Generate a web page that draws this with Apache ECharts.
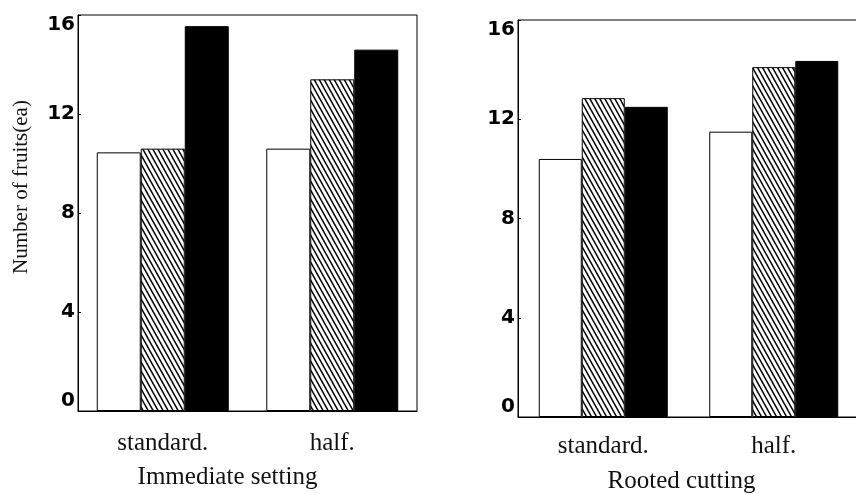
<!DOCTYPE html>
<html><head><meta charset="utf-8">
<script src="https://cdn.jsdelivr.net/npm/echarts@6/dist/echarts.min.js"></script>
<style>html,body{margin:0;padding:0;background:#fff}#c{width:856px;height:494px}</style>
</head><body><div id="c"></div>
<script>
const categories = ['standard.', 'half.'];
const panelTitles = ['Immediate setting', 'Rooted cutting'];
const yTitle = 'Number of fruits(ea)';
const yMin = 0, yMax = 16, yStep = 4;
const immediateOpen = [10.45, 10.6];
const immediateHatched = [10.6, 13.4];
const immediateSolid = [15.55, 14.6];
const rootedOpen = [10.4, 11.5];
const rootedHatched = [12.85, 14.1];
const rootedSolid = [12.5, 14.35];

function hatchCanvas() {
  const w = 5, h = 9;
  const c = document.createElement('canvas');
  c.width = w; c.height = h;
  const g = c.getContext('2d');
  g.fillStyle = '#fff'; g.fillRect(0, 0, w, h);
  g.strokeStyle = '#000'; g.lineWidth = 1.5;
  g.beginPath();
  for (let k = -2; k <= 2; k++) {
    g.moveTo(k * w - w, -h); g.lineTo(k * w + 2 * w, 2 * h);
  }
  g.stroke();
  return c;
}
const hatch = { image: hatchCanvas(), repeat: 'repeat' };
const serif = 'Liberation Serif';

function xAxis(i, padRight, margin, gap) {
  return {
    type: 'category', gridIndex: i, data: categories,
    axisLine: { lineStyle: { color: '#000', width: 1 } },
    axisTick: { show: false },
    axisLabel: { fontFamily: serif, fontSize: 25, color: '#111', margin: margin },
    name: panelTitles[i], nameLocation: 'middle', nameGap: gap,
    nameTextStyle: { fontFamily: serif, fontSize: 25, color: '#111', padding: [0, padRight, 0, 0] }
  };
}
function yAxis(i, withName) {
  const a = {
    type: 'value', gridIndex: i, min: yMin, max: yMax, interval: yStep,
    axisLine: { show: true, lineStyle: { color: '#000', width: 1 } },
    axisTick: { show: true, inside: true, length: 3, lineStyle: { color: '#000' } },
    splitLine: { show: false },
    axisLabel: { fontFamily: 'DejaVu Sans', fontWeight: 'bold', fontSize: 20, color: '#000', margin: 3,
      verticalAlignMinLabel: 'bottom', verticalAlignMaxLabel: 'top' }
  };
  if (withName) {
    a.name = yTitle; a.nameLocation = 'middle'; a.nameGap = 46; a.nameRotate = 90;
    a.nameTextStyle = { fontFamily: serif, fontSize: 21, color: '#111', padding: [0, 0, 0, 52] };
  }
  return a;
}
function bar(i, data, color, w) {
  return { type: 'bar', xAxisIndex: i, yAxisIndex: i, data: data, barWidth: w, barGap: '0%',
    itemStyle: { color: color, borderColor: '#000', borderWidth: 1 }, silent: true };
}
const chart = echarts.init(document.getElementById('c'), null, { renderer: 'canvas' });
chart.setOption({
  backgroundColor: '#fff',
  animation: false,
  grid: [
    { left: 78, top: 15, width: 339, height: 396, show: true, borderColor: '#000', borderWidth: 1, outerBoundsMode: 'none', containLabel: false },
    { left: 518, top: 20, width: 341, height: 397, show: true, borderColor: '#000', borderWidth: 1, outerBoundsMode: 'none', containLabel: false }
  ],
  xAxis: [xAxis(0, 40, 20, 54), xAxis(1, 14, 17, 52)],
  yAxis: [yAxis(0, true), yAxis(1, false)],
  series: [
    bar(0, immediateOpen, '#fff', 44), bar(0, immediateHatched, hatch, 44), bar(0, immediateSolid, '#000', 44),
    bar(1, rootedOpen, '#fff', 43), bar(1, rootedHatched, hatch, 43), bar(1, rootedSolid, '#000', 43)
  ]
});
</script></body></html>
